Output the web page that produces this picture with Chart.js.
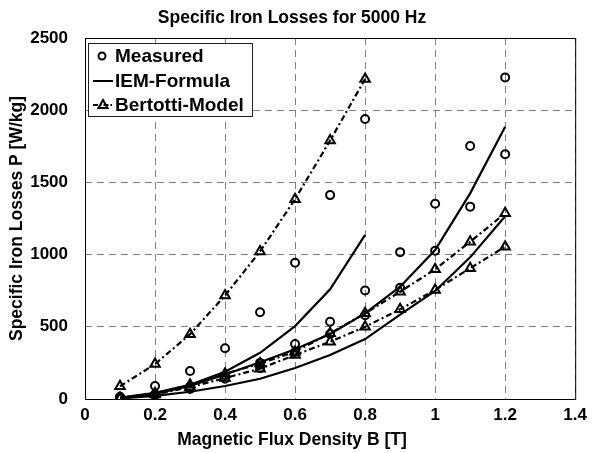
<!DOCTYPE html>
<html>
<head>
<meta charset="utf-8">
<script src="https://cdn.jsdelivr.net/npm/chart.js@4.4.1/dist/chart.umd.min.js"></script>
<style>
  html, body { margin: 0; padding: 0; background: #fff; }
  #wrap { width: 593px; height: 453px; }
</style>
</head>
<body>
<div id="wrap"><canvas id="grafico"></canvas></div>
<script>
// B values in Tesla
const fluxShort = [0.1, 0.2, 0.3, 0.4, 0.5, 0.6, 0.7, 0.8];
const fluxLong = [0.1, 0.2, 0.3, 0.4, 0.5, 0.6, 0.7, 0.8, 0.9, 1.0, 1.1, 1.2];

// measured losses (W/kg)
const measuredA = [15, 90, 194, 352, 601, 943, 1412, 1939];
const measuredB = [6, 32, 85, 165, 250, 381, 535, 752, 1017, 1352, 1752, 2227];
const measuredC = [5, 26, 70, 140, 215, 325, 450, 580, 771, 1027, 1332, 1695];

// IEM formula
const iemA = [10, 42, 98, 189, 320, 505, 760, 1136];
const iemB = [7, 35, 90, 170, 255, 345, 450, 593, 778, 1032, 1424, 1885];
const iemC = [4, 22, 50, 90, 140, 215, 305, 415, 585, 748, 981, 1265];

// Bertotti model
const bertA = [88, 242, 448, 717, 1022, 1384, 1790, 2216];
const bertB = [6, 38, 98, 175, 245, 328, 455, 593, 743, 898, 1089, 1286];
const bertC = [5, 32, 82, 145, 210, 305, 397, 500, 621, 755, 905, 1055];

const xTicks = [0, 0.2, 0.4, 0.6, 0.8, 1, 1.2, 1.4];
const yTicks = [0, 500, 1000, 1500, 2000, 2500];

const FONT = '"Liberation Sans", Arial, sans-serif';

function pares(xs, ys) {
    return ys.map((y, i) => ({ x: xs[i], y: y }));
}

function medido(xs, ys) {
    return {
        data: pares(xs, ys), showLine: false,
        pointStyle: 'circle', pointRadius: 4, pointBorderWidth: 2,
        pointBorderColor: '#000', pointBackgroundColor: 'rgba(0,0,0,0)'
    };
}
function iem(xs, ys) {
    return {
        data: pares(xs, ys), borderColor: '#000', borderWidth: 2.2,
        pointRadius: 0, tension: 0
    };
}
function bertotti(xs, ys) {
    return {
        data: pares(xs, ys), borderColor: '#000', borderWidth: 2.2,
        borderDash: [6, 3, 2, 3], tension: 0,
        pointStyle: 'triangle', pointRadius: 5.5, pointBorderWidth: 2,
        pointBorderColor: '#000', pointBackgroundColor: 'rgba(0,0,0,0)'
    };
}

// desenha titulo, rotulos dos eixos, moldura e legenda
const extras = {
    id: 'extras',
    afterDraw(chart) {
        const ctx = chart.ctx;
        const a = chart.chartArea;
        ctx.save();
        ctx.strokeStyle = '#000';
        ctx.lineWidth = 1;
        ctx.strokeRect(a.left + 0.5, a.top + 0.5, a.right - a.left, a.bottom - a.top);

        ctx.fillStyle = '#000';
        ctx.font = 'bold 17.5px ' + FONT;
        ctx.textAlign = 'center';
        ctx.textBaseline = 'middle';
        ctx.fillText('Specific Iron Losses for 5000 Hz', 292, 18);
        ctx.fillText('Magnetic Flux Density B [T]', 292, 440);
        ctx.save();
        ctx.translate(17, (a.top + a.bottom) / 2);
        ctx.rotate(-Math.PI / 2);
        ctx.fillText('Specific Iron Losses P [W/kg]', 0, 0);
        ctx.restore();

        // legenda
        const bx = 88, by = 43, bw = 164, bh = 73;
        ctx.fillStyle = '#fff';
        ctx.fillRect(bx, by, bw, bh);
        ctx.strokeStyle = '#222';
        ctx.strokeRect(bx + 0.5, by + 0.5, bw, bh);
        const rows = [56, 81, 105];
        const nomes = ['Measured', 'IEM-Formula', 'Bertotti-Model'];
        ctx.fillStyle = '#000';
        ctx.textAlign = 'left';
        ctx.font = 'bold 19px ' + FONT;
        nomes.forEach((n, i) => ctx.fillText(n, 115, rows[i] + 1));
        ctx.lineWidth = 2;
        ctx.strokeStyle = '#000';
        ctx.beginPath();
        ctx.arc(102, rows[0], 3.5, 0, Math.PI * 2);
        ctx.stroke();
        ctx.beginPath();
        ctx.moveTo(93, rows[1]); ctx.lineTo(113, rows[1]);
        ctx.stroke();
        ctx.setLineDash([5, 2, 1.5, 2]);
        ctx.beginPath();
        ctx.moveTo(93, rows[2]); ctx.lineTo(113, rows[2]);
        ctx.stroke();
        ctx.setLineDash([]);
        ctx.beginPath();
        ctx.moveTo(103, rows[2] - 5);
        ctx.lineTo(107.5, rows[2] + 3);
        ctx.lineTo(98.5, rows[2] + 3);
        ctx.closePath();
        ctx.stroke();
        ctx.restore();
    }
};

new Chart(document.getElementById('grafico'), {
    type: 'line',
    data: {
        datasets: [
            medido(fluxShort, measuredA),
            medido(fluxLong, measuredB),
            medido(fluxLong, measuredC),
            iem(fluxShort, iemA),
            iem(fluxLong, iemB),
            iem(fluxLong, iemC),
            bertotti(fluxShort, bertA),
            bertotti(fluxLong, bertB),
            bertotti(fluxLong, bertC)
        ]
    },
    options: {
        responsive: true,
        maintainAspectRatio: false,
        animation: false,
        layout: { padding: { top: 38, right: 15, left: 0, bottom: 0 } },
        plugins: {
            legend: { display: false },
            title: { display: false },
            tooltip: { enabled: false }
        },
        scales: {
            x: {
                type: 'linear', min: 0, max: 1.4,
                afterBuildTicks: s => { s.ticks = xTicks.map(v => ({ value: v })); },
                afterFit: s => { s.height = 54; },
                ticks: {
                    color: '#000', padding: 6,
                    font: { family: FONT, size: 17, weight: 'bold' },
                    maxRotation: 0,
                    callback: v => String(+v.toFixed(1))
                },
                grid: { color: '#808080', lineWidth: 1, drawTicks: false },
                border: { display: false, dash: [7, 5] }
            },
            y: {
                type: 'linear', min: 0, max: 2500,
                afterBuildTicks: s => { s.ticks = yTicks.map(v => ({ value: v })); },
                afterFit: s => { s.width = 85; },
                ticks: {
                    color: '#000', padding: 17,
                    font: { family: FONT, size: 17, weight: 'bold' },
                    callback: v => String(v)
                },
                grid: { color: '#808080', lineWidth: 1, drawTicks: false },
                border: { display: false, dash: [7, 5] }
            }
        }
    },
    plugins: [extras]
});
</script>
</body>
</html>
